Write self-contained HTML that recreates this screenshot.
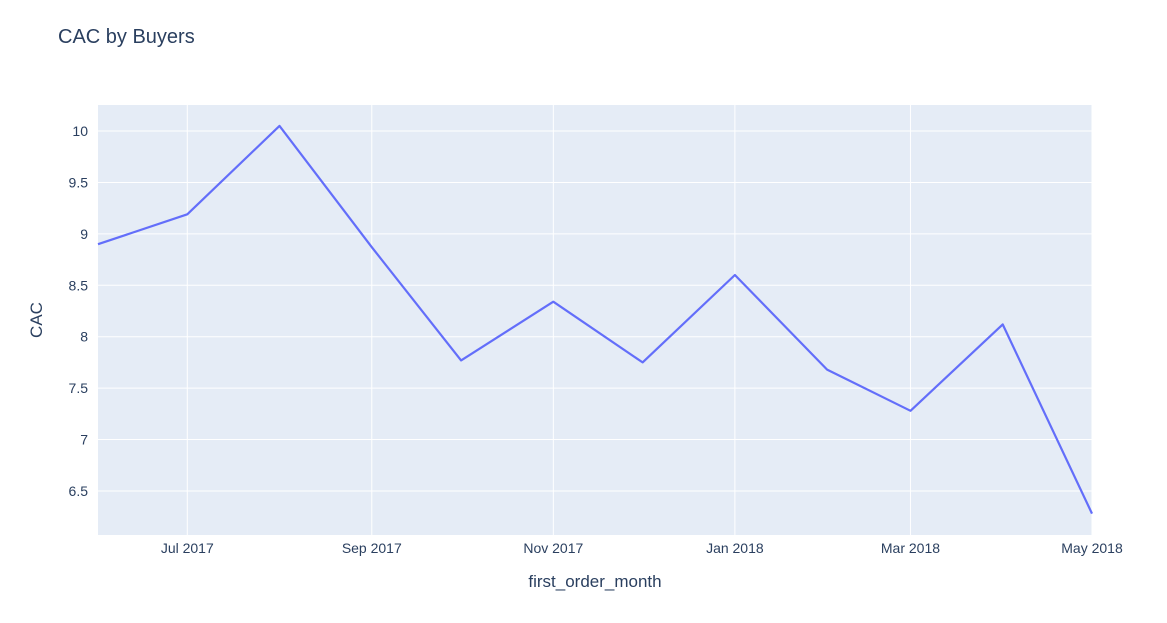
<!DOCTYPE html>
<html><head><meta charset="utf-8">
<style>
body{margin:0;background:#fff;font-family:"Liberation Sans",Arial,sans-serif;}
svg text{font-family:"Liberation Sans",Arial,sans-serif;}
</style></head>
<body>
<svg id="chart" width="1167" height="618" xmlns="http://www.w3.org/2000/svg">
<rect width="1167" height="618" fill="#fff"/>
<text x="58" y="43" font-size="20" fill="#2a3f5f">CAC by Buyers</text>
<rect x="98" y="105" width="994" height="430" fill="#e5ecf6"/>
<g id="grid"></g>
<g id="series"></g>
<g id="ticks"></g>
<text x="595" y="587" font-size="17" fill="#2a3f5f" text-anchor="middle">first_order_month</text>
<text x="0" y="0" font-size="17" fill="#2a3f5f" text-anchor="middle" transform="translate(42,320) rotate(-90)">CAC</text>
</svg>
<script>
const months = ["2017-06","2017-07","2017-08","2017-09","2017-10","2017-11","2017-12","2018-01","2018-02","2018-03","2018-04","2018-05"];
const cac = [8.90,9.19,10.05,8.87,7.77,8.34,7.75,8.60,7.68,7.28,8.12,6.28];
const xTickMonths = ["2017-07","2017-09","2017-11","2018-01","2018-03","2018-05"];
const xTickLabels = ["Jul 2017","Sep 2017","Nov 2017","Jan 2018","Mar 2018","May 2018"];
const yTicks = [6.5,7,7.5,8,8.5,9,9.5,10];
const yTickLabels = ["6.5","7","7.5","8","8.5","9","9.5","10"];

const NS="http://www.w3.org/2000/svg";
const L=98,R=1092,T=105,B=535;
const t=s=>{const [y,m]=s.split("-").map(Number);return Date.UTC(y,m-1,1);};
const t0=t(months[0]),t1=t(months[months.length-1]);
const x=s=>L+(t(s)-t0)/(t1-t0)*(R-L);
const yMin=6.072,yMax=10.253;
const y=v=>B-(v-yMin)/(yMax-yMin)*(B-T);
function mk(tag,attrs,parent){const e=document.createElementNS(NS,tag);for(const k in attrs)e.setAttribute(k,attrs[k]);document.getElementById(parent).appendChild(e);return e;}
xTickMonths.forEach((m,i)=>{
  const g=mk("line",{x1:x(m),x2:x(m),y1:T,y2:B,stroke:"#fff","stroke-width":1},"grid");
  
  
  const tx=mk("text",{x:x(m),y:553,"font-size":14,fill:"#2a3f5f","text-anchor":"middle"},"ticks");
  tx.textContent=xTickLabels[i];
  
  
});
yTicks.forEach((v,i)=>{
  const g=mk("line",{x1:L,x2:R,y1:y(v),y2:y(v),stroke:"#fff","stroke-width":1},"grid");
  
  
  const tx=mk("text",{x:88,y:y(v)+5,"font-size":14,fill:"#2a3f5f","text-anchor":"end"},"ticks");
  tx.textContent=yTickLabels[i];
  
  
});
const pts=months.map((m,i)=>x(m).toFixed(1)+","+y(cac[i]).toFixed(1)).join(" ");
const line=mk("polyline",{points:pts,fill:"none",stroke:"#636efa","stroke-width":2.2,"stroke-linejoin":"round"},"series");


</script>
</body></html>
